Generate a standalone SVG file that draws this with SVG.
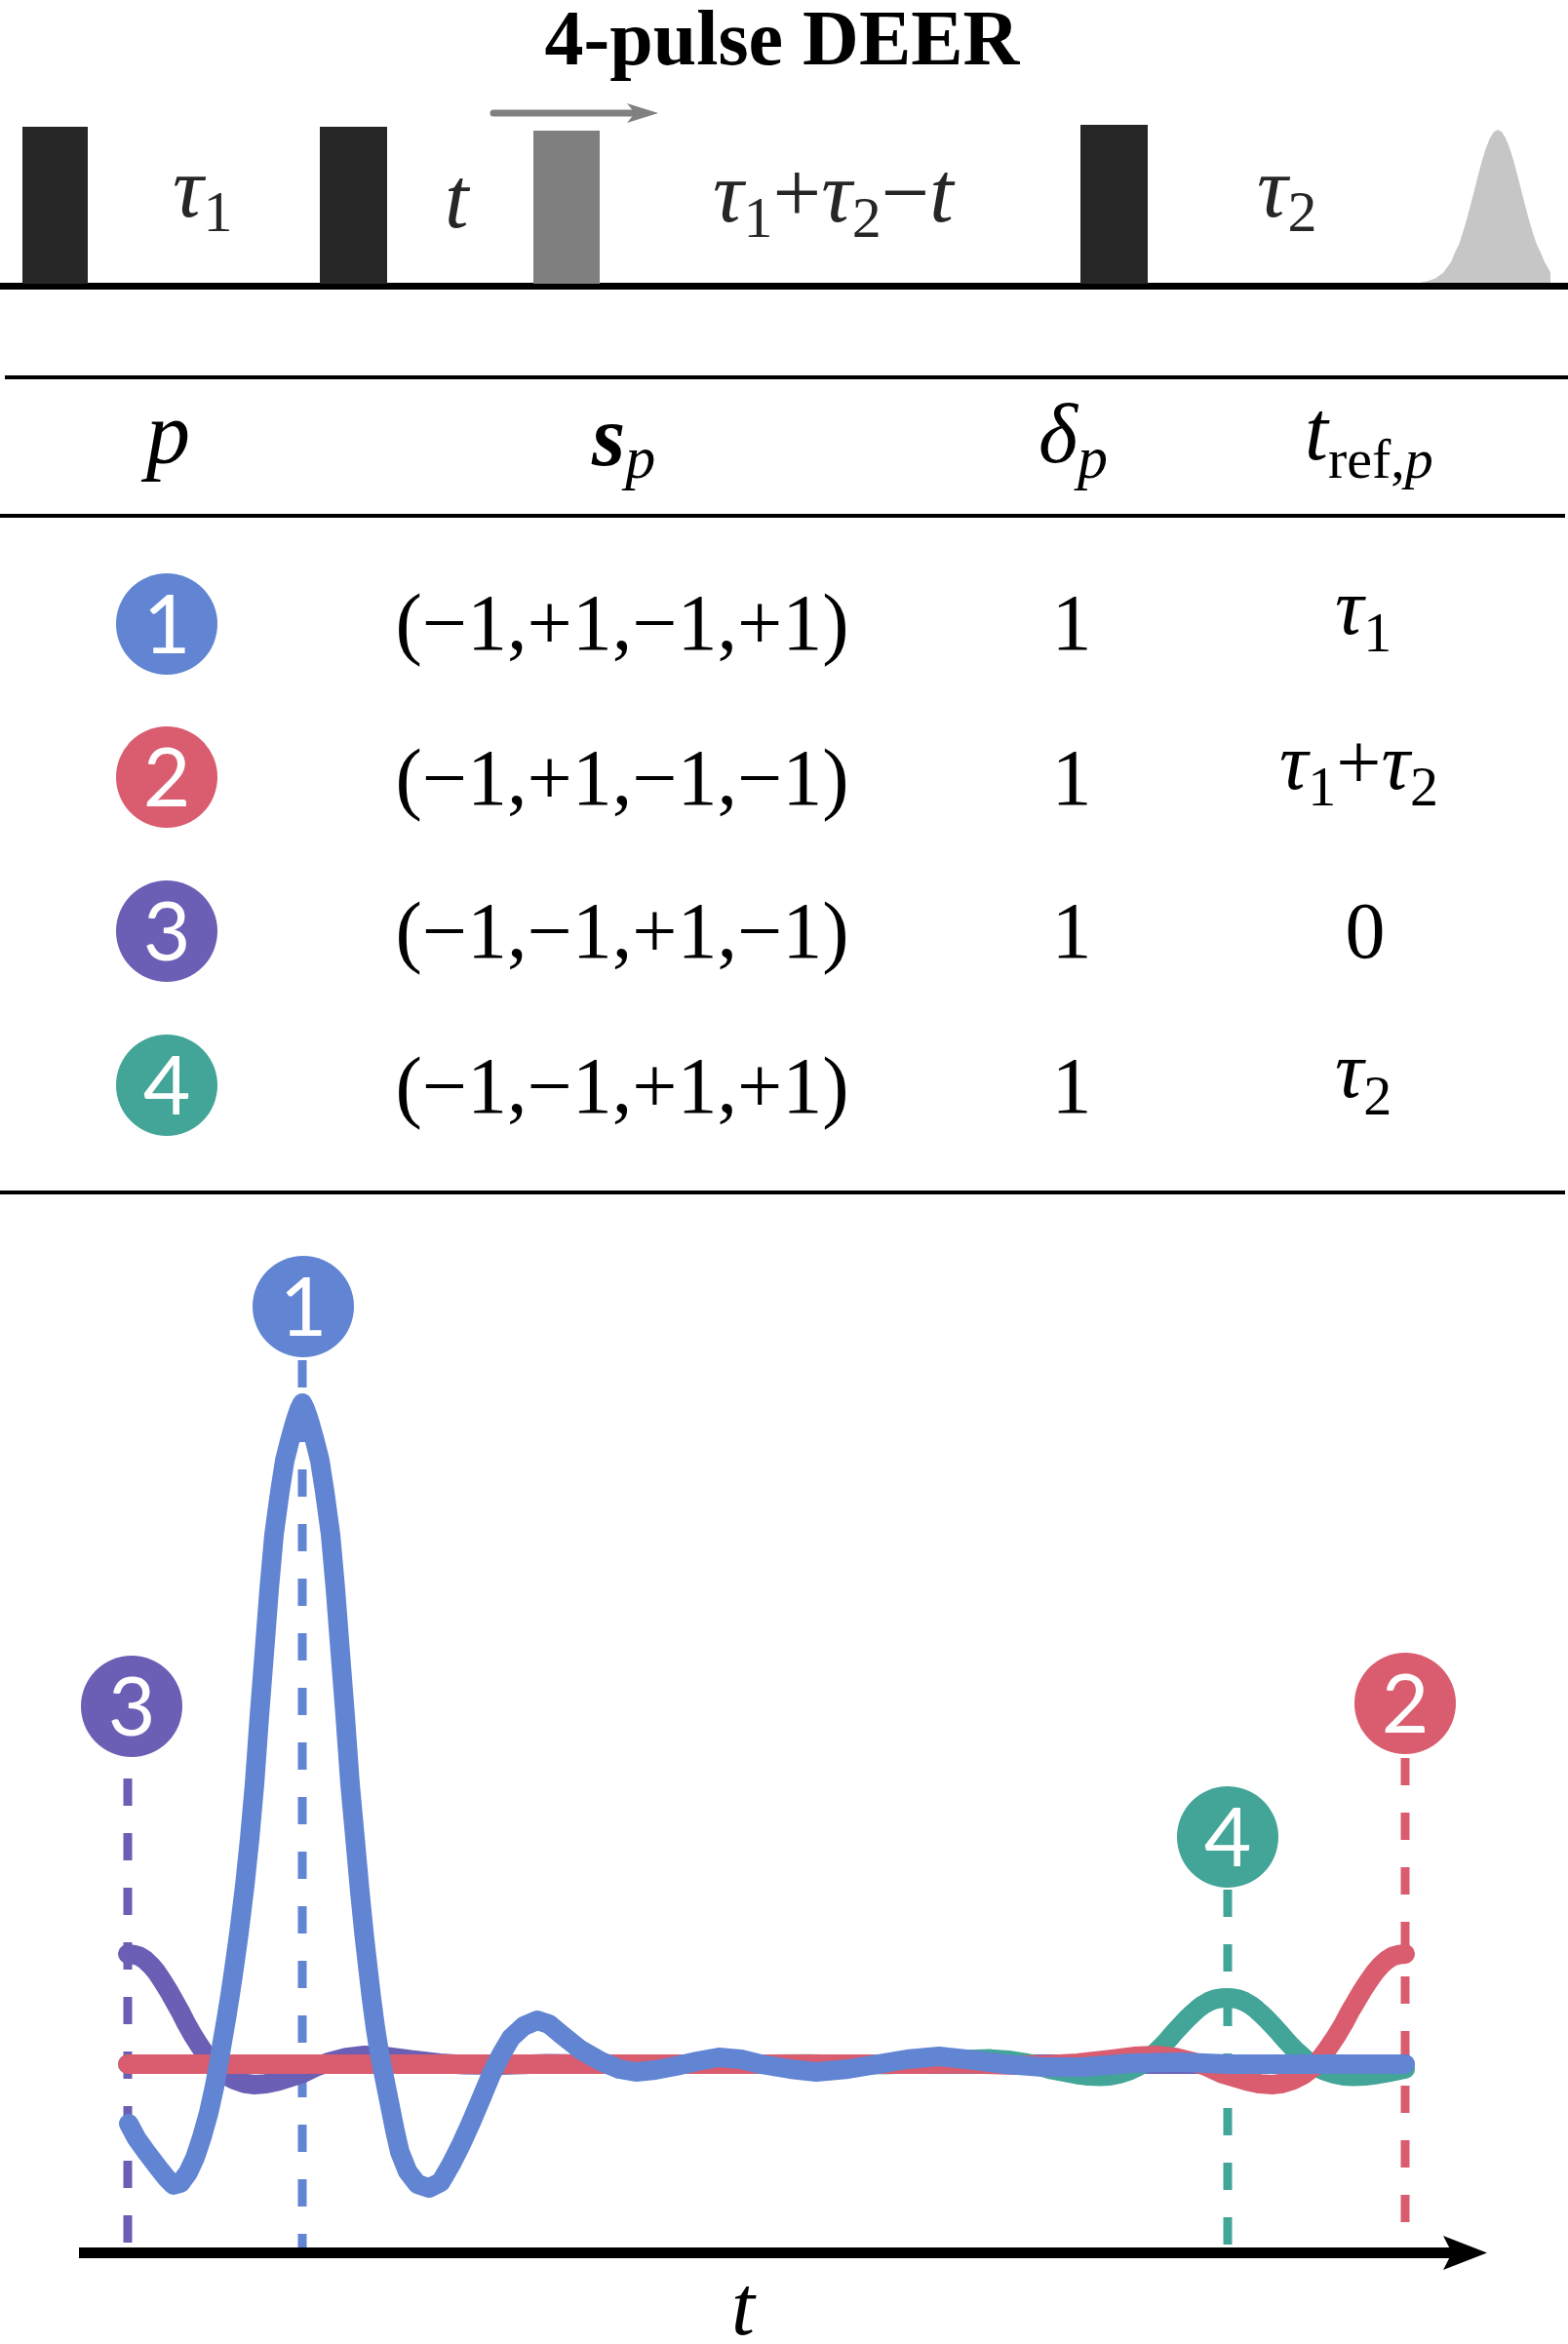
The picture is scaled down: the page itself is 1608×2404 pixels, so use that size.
<svg xmlns="http://www.w3.org/2000/svg" width="1608" height="2404" viewBox="0 0 1608 2404">
<style>
.m{font-family:"Liberation Serif","Times New Roman",serif;fill:#000}
.lab{font-family:"Liberation Serif","Times New Roman",serif;fill:#262626}
.it{font-style:italic}
.num{font-family:Lato,"DejaVu Sans",sans-serif;fill:#fff;font-size:84px;text-anchor:middle}
.curve{fill:none;stroke-width:20;stroke-linecap:round;stroke-linejoin:round}
.dash{fill:none;stroke-width:9;stroke-dasharray:28 28}
.rule{fill:#000}
.blue{fill:#6184d3}.red{fill:#d95c6f}.purple{fill:#6a5fb4}.teal{fill:#42a597}
</style>
<rect width="1608" height="2404" fill="#fff"/>

<g id="title">
<text class="m" x="802" y="66" text-anchor="middle" font-weight="bold" font-size="80">4-pulse DEER</text>
</g>

<g id="pulse-sequence">
<rect x="0" y="290" width="1608" height="7" fill="#000"/>
<rect id="pulse1" x="23" y="130" width="67" height="161" fill="#262626"/>
<rect id="pulse2" x="328" y="130" width="69" height="161" fill="#262626"/>
<rect id="pulse3" x="547" y="134" width="68" height="157" fill="#7f7f7f"/>
<rect id="pulse4" x="1108" y="128" width="69" height="163" fill="#262626"/>
<path id="echo" fill="#c6c6c6" d="M1464,290 L1472,288.3 L1480,285.5 L1488,279.7 L1496,268.8 L1500,259 L1504,250.9 L1508,239 L1512,225.5 L1516,210.5 L1520,194.8 L1524,179.1 L1528,164.3 L1532,151.4 L1536,141.5 L1540,135.2 L1544,133 L1548,135.2 L1552,141.5 L1556,151.4 L1560,164.3 L1564,179.1 L1568,194.8 L1572,210.5 L1576,225.5 L1580,239 L1584,250.9 L1588,259 L1592,268.8 L1598,279 L1598,290 Z" transform="translate(-8,0)"/>
<line x1="506" y1="116" x2="652" y2="116" stroke="#808080" stroke-width="7" stroke-linecap="round"/>
<path d="M675,116 L643,106 L651,116 L643,126 Z" fill="#808080"/>
<text class="lab" x="177" y="222" font-size="88"><tspan class="it">τ</tspan><tspan font-size="60" dy="15">1</tspan></text>
<text class="lab it" x="456" y="233" font-size="88">t</text>
<text class="lab" x="731" y="227" font-size="88"><tspan class="it">τ</tspan><tspan font-size="60" dy="16">1</tspan><tspan dy="-16">+</tspan><tspan class="it">τ</tspan><tspan font-size="60" dy="16">2</tspan><tspan dy="-16">−</tspan><tspan class="it">t</tspan></text>
<text class="lab" x="1289" y="222" font-size="88"><tspan class="it">τ</tspan><tspan font-size="60" dy="15">2</tspan></text>
</g>

<g id="table">
<rect class="rule" x="5" y="385" width="1603" height="4"/>
<rect class="rule" x="0" y="527" width="1605" height="4"/>
<rect class="rule" x="0" y="1221" width="1605" height="4"/>
<text class="m it" x="150" y="475" font-size="90">p</text>
<text class="m" x="607" y="477" font-size="88"><tspan font-weight="bold" font-style="italic">s</tspan><tspan class="it" font-size="62" dy="13">p</tspan></text>
<text class="m" x="1065" y="474" font-size="86"><tspan class="it">δ</tspan><tspan class="it" font-size="62" dy="16">p</tspan></text>
<text class="m" x="1338" y="471" font-size="86"><tspan class="it">t</tspan><tspan font-size="58" dy="19">ref,</tspan><tspan class="it" font-size="58">p</tspan></text>

<g id="row1">
<g id="row1-badge"><circle class="blue" cx="171" cy="640" r="52"/><text class="num" x="171" y="670">1</text></g>
<text class="m" x="638" y="666" font-size="82" text-anchor="middle">(−1,+1,−1,+1)</text>
<text class="m" x="1099" y="666" font-size="82" text-anchor="middle">1</text>
<text class="m" x="1369" y="650" font-size="82"><tspan class="it">τ</tspan><tspan font-size="58" dy="18">1</tspan></text>
</g>
<g id="row2">
<g id="row2-badge"><circle class="red" cx="171" cy="797" r="52"/><text class="num" x="171" y="827">2</text></g>
<text class="m" x="638" y="825" font-size="82" text-anchor="middle">(−1,+1,−1,−1)</text>
<text class="m" x="1099" y="825" font-size="82" text-anchor="middle">1</text>
<text class="m" x="1312" y="809" font-size="82"><tspan class="it">τ</tspan><tspan font-size="58" dy="17">1</tspan><tspan dy="-17">+</tspan><tspan class="it">τ</tspan><tspan font-size="58" dy="17">2</tspan></text>
</g>
<g id="row3">
<g id="row3-badge"><circle class="purple" cx="171" cy="955" r="52"/><text class="num" x="171" y="985">3</text></g>
<text class="m" x="638" y="982" font-size="82" text-anchor="middle">(−1,−1,+1,−1)</text>
<text class="m" x="1099" y="982" font-size="82" text-anchor="middle">1</text>
<text class="m" x="1400" y="982" font-size="82" text-anchor="middle">0</text>
</g>
<g id="row4">
<g id="row4-badge"><circle class="teal" cx="171" cy="1113" r="52"/><text class="num" x="171" y="1143">4</text></g>
<text class="m" x="638" y="1141" font-size="82" text-anchor="middle">(−1,−1,+1,+1)</text>
<text class="m" x="1099" y="1141" font-size="82" text-anchor="middle">1</text>
<text class="m" x="1369" y="1125" font-size="82"><tspan class="it">τ</tspan><tspan font-size="58" dy="18">2</tspan></text>
</g>
</g>

<g id="connectors">
<line class="dash" x1="131" y1="1824" x2="131" y2="2300" stroke="#6a5fb4"/>
<line class="dash" x1="310" y1="1395" x2="310" y2="2305" stroke="#6184d3"/>
<line class="dash" x1="1259" y1="1938" x2="1259" y2="2302" stroke="#42a597"/>
<line class="dash" x1="1441" y1="1803" x2="1441" y2="2279" stroke="#d95c6f"/>
</g>

<g id="axis">
<rect x="81" y="2305" width="1410" height="11" fill="#000"/>
<path d="M1525,2310.5 L1480,2293 L1489,2310.5 L1480,2328 Z" fill="#000"/>
<text class="m it" x="750" y="2394" font-size="86">t</text>
</g>

<g id="curves">
<path id="curve3" class="curve" stroke="#6a5fb4" d="M131,2004 L137,2004.6 L143,2006.3 L149,2010.2 L155,2015.9 L161,2023.2 L167,2032.2 L173,2041.9 L179,2052.6 L185,2063.3 L191,2075.2 L197,2085.9 L203,2095.5 L209,2104.6 L215,2113 L221,2120.4 L231,2128.3 L241,2133.4 L251,2136.8 L261,2138 L273,2137.1 L285,2134.5 L297,2130.8 L310,2126.6 L325,2119.3 L338,2114.7 L355,2110.2 L374,2108 L396,2109.1 L421,2112.5 L451,2115.9 L476,2117.6 L511,2117.9 L561,2116.4 L601,2117 L1441,2117"/>
<path id="curve4" class="curve" stroke="#42a597" d="M131,2117 L788,2117 L828,2116.7 L878,2117.5 L913,2117.3 L938,2116.3 L968,2114.3 L993,2112.2 L1015,2111.6 L1034,2112.9 L1051,2115.6 L1064,2118.4 L1079,2122.8 L1092,2125.3 L1104,2127.5 L1116,2129.1 L1128,2129.6 L1138,2128.9 L1148,2126.9 L1158,2123.8 L1168,2119 L1174,2114.6 L1180,2109.5 L1186,2104.1 L1192,2098.3 L1198,2091.8 L1204,2084.7 L1210,2078.2 L1216,2071.8 L1222,2066 L1228,2060.6 L1234,2056.1 L1240,2052.7 L1246,2050.4 L1252,2049.3 L1258,2049 L1264,2049.3 L1270,2050.4 L1276,2052.7 L1282,2056.1 L1288,2060.6 L1294,2066 L1300,2071.8 L1306,2078.2 L1312,2084.7 L1318,2091.8 L1324,2098.3 L1330,2104.1 L1336,2109.5 L1342,2114.6 L1348,2119 L1358,2123.8 L1368,2126.9 L1378,2128.9 L1388,2129.6 L1400,2129.1 L1412,2127.5 L1424,2125.3 L1437,2122.8 L1441,2122"/>
<path id="curve2" class="curve" stroke="#d95c6f" d="M131,2117 L947.5,2117 L989.5,2116.4 L1042,2117.9 L1078.8,2117.6 L1105,2115.9 L1136.5,2112.5 L1162.8,2109.1 L1185.9,2108 L1205.8,2110.2 L1223.7,2114.7 L1237.3,2119.3 L1253.1,2126.6 L1266.7,2130.8 L1279.3,2134.5 L1291.9,2137.1 L1304.5,2138 L1315,2136.8 L1325.5,2133.4 L1336,2128.3 L1346.5,2120.4 L1352.8,2113 L1359.1,2104.6 L1365.4,2095.5 L1371.7,2085.9 L1378,2075.2 L1384.3,2063.3 L1390.6,2052.6 L1396.9,2041.9 L1403.2,2032.2 L1409.5,2023.2 L1415.8,2015.9 L1422.1,2010.2 L1428.4,2006.3 L1434.7,2004.6 L1441,2004"/>
<path id="curve1" class="curve" stroke="#6184d3" d="M132,2178 L140,2193 L150,2207 L163,2224 L171,2234 L178,2241 L185,2239 L193,2228 L200,2213 L207,2192 L214,2167 L220,2140 L224,2118 L228,2094 L232,2071 L236,2046 L240,2019 L245,1983 L251,1934 L256,1886 L261,1830 L266,1760 L271.5,1689 L276,1630 L281,1574 L287,1530 L292,1498 L297,1478 L302,1460 L304.5,1452 L307,1445 L310,1439 L313,1445 L315.5,1452 L318,1460 L323,1478 L328,1498 L333,1530 L339,1574 L344,1630 L348.5,1689 L354,1760 L359,1830 L364.5,1890 L369,1940 L373.5,1985 L377.5,2020 L381,2050 L385,2080 L389,2105 L394,2130 L400,2160 L405,2185 L410,2207 L418,2227 L428,2240 L440,2244 L452,2238 L463,2219 L473,2199 L483,2177 L494,2151 L504,2127 L514,2107 L524,2090 L537,2078 L551,2072 L563,2076 L575,2086 L595,2102 L616,2114 L635,2122 L652,2125 L672,2123 L693,2119 L715,2114 L737,2110 L760,2112 L780,2117 L810,2122 L837,2125 L870,2122 L900,2117 L930,2112 L963,2109 L1000,2113 L1030,2117 L1070,2120 L1110,2120 L1160,2116 L1210,2115 L1260,2117 L1441,2117"/>
</g>

<g id="marker1"><circle class="blue" cx="311" cy="1340" r="52"/><text class="num" x="311" y="1370">1</text></g>
<g id="marker2"><circle class="red" cx="1441" cy="1747" r="52"/><text class="num" x="1441" y="1777">2</text></g>
<g id="marker3"><circle class="purple" cx="135" cy="1750" r="52"/><text class="num" x="135" y="1780">3</text></g>
<g id="marker4"><circle class="teal" cx="1259" cy="1884" r="52"/><text class="num" x="1259" y="1914">4</text></g>
</svg>
